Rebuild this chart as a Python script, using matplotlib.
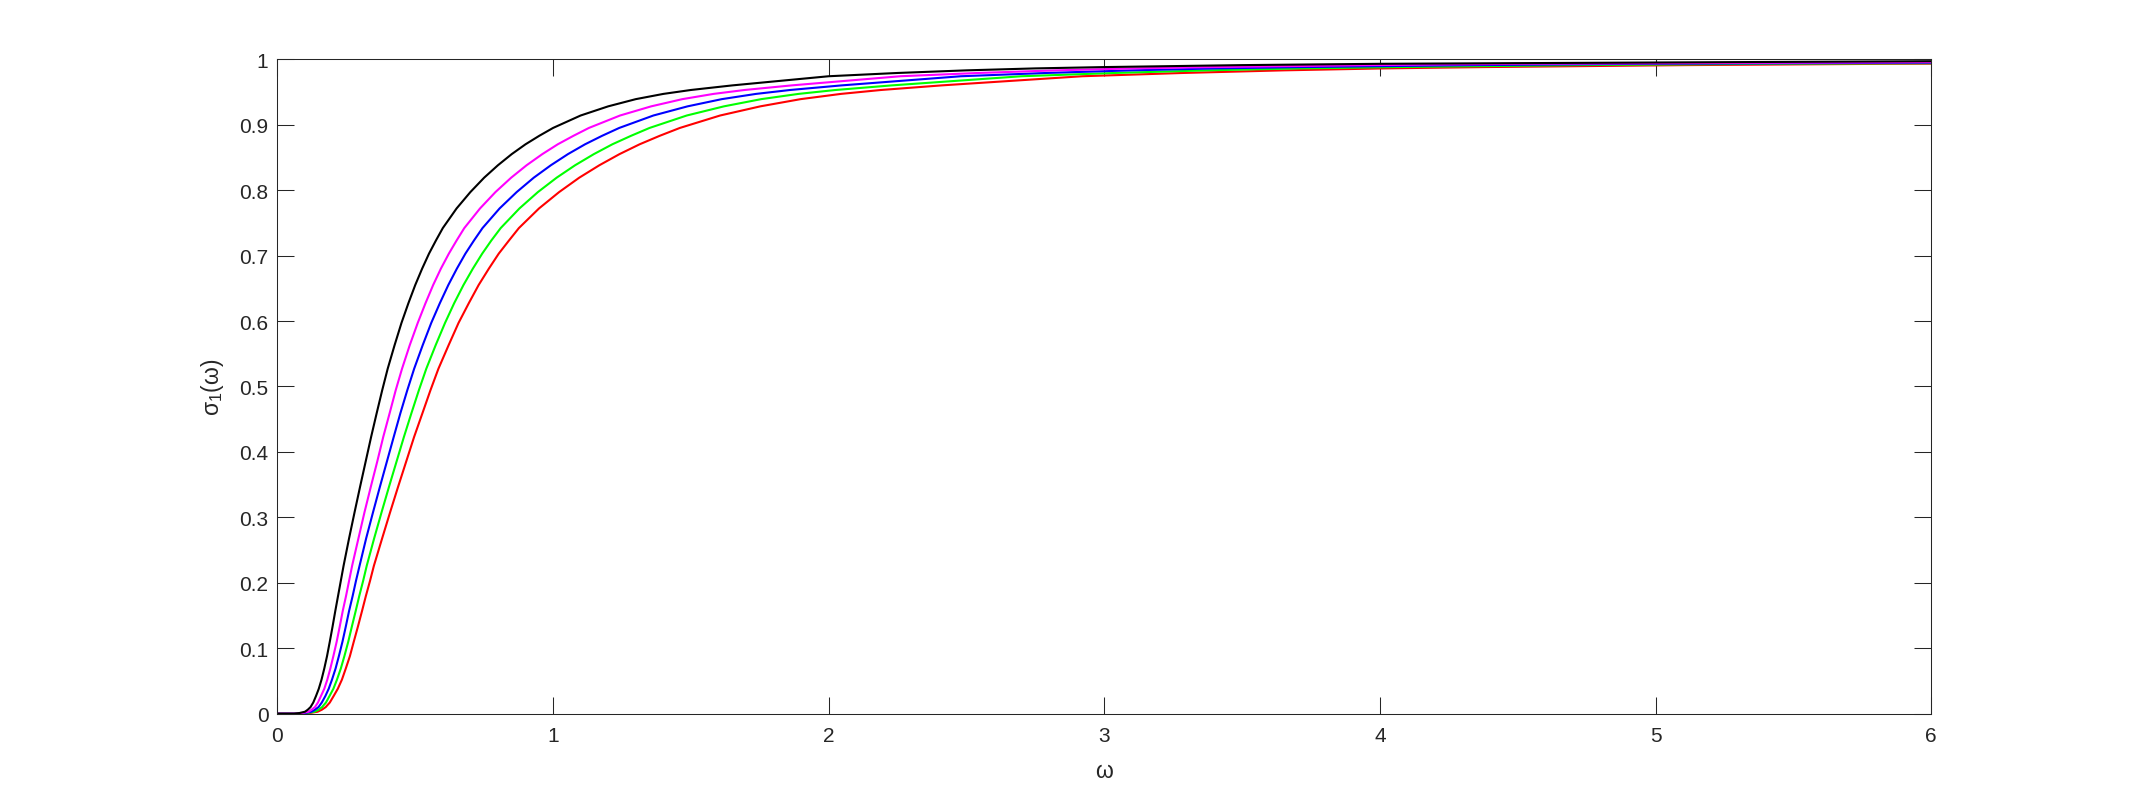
import numpy as np
import matplotlib
matplotlib.use("Agg")
import matplotlib.pyplot as plt

# Values: each curve keeps its own omega samples
w_black = [0.0, 0.06, 0.08, 0.10, 0.11, 0.12, 0.13, 0.14, 0.15, 0.16, 0.17, 0.18, 0.19, 0.20,
           0.21, 0.22, 0.23, 0.24, 0.26, 0.28, 0.30, 0.32, 0.34, 0.36, 0.38, 0.40, 0.425, 0.45,
           0.475, 0.50, 0.525, 0.55, 0.575, 0.60, 0.65, 0.70, 0.75, 0.80, 0.85, 0.90, 0.95, 1.00,
           1.10, 1.20, 1.30, 1.40, 1.50, 1.65, 1.80, 2.00, 2.25, 2.50, 2.75, 3.00, 3.50, 4.00,
           5.00, 6.00]
s_black = [0.0, 0.0, 0.001, 0.003, 0.006, 0.010, 0.017, 0.027, 0.038, 0.052, 0.069, 0.088, 0.110,
           0.133, 0.157, 0.180, 0.203, 0.226, 0.268, 0.308, 0.347, 0.385, 0.423, 0.459, 0.494,
           0.527, 0.563, 0.597, 0.627, 0.655, 0.680, 0.703, 0.723, 0.742, 0.772, 0.797, 0.819,
           0.838, 0.855, 0.870, 0.883, 0.895, 0.914, 0.928, 0.939, 0.947, 0.953, 0.960, 0.966,
           0.974, 0.979, 0.983, 0.986, 0.988, 0.991, 0.993, 0.995, 0.997]

w_magenta = [0.0, 0.068, 0.090, 0.113, 0.124, 0.136, 0.147, 0.158, 0.170, 0.181, 0.192, 0.203,
             0.215, 0.226, 0.237, 0.249, 0.260, 0.271, 0.294, 0.316, 0.339, 0.362, 0.384, 0.407,
             0.429, 0.452, 0.480, 0.509, 0.537, 0.565, 0.593, 0.622, 0.650, 0.678, 0.735, 0.791,
             0.848, 0.904, 0.961, 1.017, 1.074, 1.130, 1.243, 1.356, 1.469, 1.582, 1.695, 1.865,
             2.034, 2.260, 2.543, 2.825, 3.108, 3.390, 3.955, 4.520, 5.650, 6.00]
s_magenta = s_black[:57] + [0.9955]

w_blue = [0.0, 0.074, 0.099, 0.124, 0.136, 0.149, 0.161, 0.174, 0.186, 0.198, 0.211, 0.223,
          0.236, 0.248, 0.260, 0.273, 0.285, 0.298, 0.322, 0.347, 0.372, 0.397, 0.422, 0.446,
          0.471, 0.496, 0.527, 0.558, 0.589, 0.620, 0.651, 0.682, 0.713, 0.744, 0.806, 0.868,
          0.930, 0.992, 1.054, 1.116, 1.178, 1.240, 1.364, 1.488, 1.612, 1.736, 1.860, 2.046,
          2.232, 2.480, 2.790, 3.100, 3.410, 3.720, 4.340, 4.960, 6.00]
s_blue = s_black[:56] + [0.9947]

w_green = [0.0, 0.081, 0.108, 0.135, 0.149, 0.162, 0.176, 0.189, 0.203, 0.216, 0.230, 0.243,
           0.257, 0.270, 0.284, 0.297, 0.311, 0.324, 0.351, 0.378, 0.405, 0.432, 0.459, 0.486,
           0.513, 0.540, 0.574, 0.608, 0.641, 0.675, 0.709, 0.743, 0.776, 0.810, 0.878, 0.945,
           1.013, 1.080, 1.148, 1.215, 1.283, 1.350, 1.485, 1.620, 1.755, 1.890, 2.025, 2.228,
           2.430, 2.700, 3.038, 3.375, 3.713, 4.050, 4.725, 5.400, 6.00]
s_green = s_black[:56] + [0.9939]

w_red = [0.0, 0.088, 0.117, 0.146, 0.161, 0.175, 0.190, 0.204, 0.219, 0.234, 0.248, 0.263,
         0.277, 0.292, 0.307, 0.321, 0.336, 0.350, 0.380, 0.409, 0.438, 0.467, 0.496, 0.526,
         0.555, 0.584, 0.621, 0.657, 0.694, 0.730, 0.767, 0.803, 0.840, 0.876, 0.949, 1.022,
         1.095, 1.168, 1.241, 1.314, 1.387, 1.460, 1.606, 1.752, 1.898, 2.044, 2.190, 2.409,
         2.628, 2.920, 3.285, 3.650, 4.015, 4.380, 5.110, 5.840, 6.00]
s_red = s_black[:56] + [0.9932]

x_ticks = [0, 1, 2, 3, 4, 5, 6]
y_ticks = [0, 0.1, 0.2, 0.3, 0.4, 0.5, 0.6, 0.7, 0.8, 0.9, 1]
y_tick_labels = ["0", "0.1", "0.2", "0.3", "0.4", "0.5", "0.6", "0.7", "0.8", "0.9", "1"]

plt.rcParams['font.family'] = ['Liberation Sans', 'DejaVu Sans']
plt.rcParams['mathtext.fontset'] = 'custom'
plt.rcParams['mathtext.rm'] = 'Liberation Sans'

dark = (0.15, 0.15, 0.15)

fig = plt.figure(figsize=(21.34, 8.03), dpi=100)
ax = fig.add_axes([0.13, 0.11, 0.775, 0.815])

ax.plot(w_red, s_red, color=(1, 0, 0), lw=1.5)
ax.plot(w_green, s_green, color=(0, 1, 0), lw=1.5)
ax.plot(w_blue, s_blue, color=(0, 0, 1), lw=1.5)
ax.plot(w_magenta, s_magenta, color=(1, 0, 1), lw=1.5)
ax.plot(w_black, s_black, color=(0, 0, 0), lw=1.5)

ax.set_xlim(0, 6)
ax.set_ylim(0, 1)
ax.set_xticks(x_ticks)
ax.set_xticklabels([str(v) for v in x_ticks])
ax.set_yticks(y_ticks)
ax.set_yticklabels(y_tick_labels)

ax.tick_params(direction='in', length=11.9, width=0.75, colors=dark, labelsize=15,
               top=True, right=True)
ax.tick_params(axis='x', pad=9)
ax.tick_params(axis='y', pad=6.5)
for sp in ax.spines.values():
    sp.set_color(dark)
    sp.set_linewidth(0.75)

ax.set_xlabel("ω", fontsize=16.5, color=dark, va='center')
ax.xaxis.set_label_coords(0.5, -0.0876)
ax.set_ylabel(r"σ$_{\mathregular{1}}$(ω)", fontsize=16.5, color=dark, va='center')
ax.yaxis.set_label_coords(-0.0395, 0.5)

fig.savefig("out.png", dpi=100)
